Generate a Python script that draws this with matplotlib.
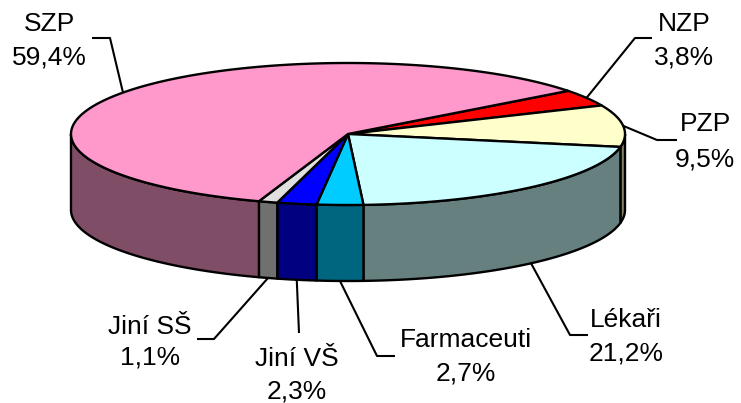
import numpy as np
import matplotlib.pyplot as plt

# -----------------------------
# Data
# -----------------------------
labels = ["NZP", "PZP", "Lékaři", "Farmaceuti", "Jiní VŠ", "Jiní SŠ", "SZP"]
values = [3.8, 9.5, 21.2, 2.7, 2.3, 1.1, 59.4]
top_colors = ["#FF0000", "#FFFFCC", "#CCFFFF", "#00CCFF", "#0000FF", "#E0E0E0", "#FF99CC"]
side_colors = ["#800000", "#808066", "#668080", "#006680", "#000080", "#707070", "#804D66"]

# -----------------------------
# Layout (pixels, y down)
# -----------------------------
W, H = 741, 403
cx, cy = 348, 134
a, b = 277, 71
depth = 76
start = 37.4

# label text centre (x), line1 baseline, line2 baseline, elbow points
label_pos = {
    "SZP": (49, 31, 64, [(92, 38), (110, 38)]),
    "NZP": (684, 31, 64, [(652, 38), (635, 38)]),
    "PZP": (705, 131, 166, [(677, 140), (657, 140)]),
    "Lékaři": (626, 327, 360, [(588, 335), (570, 335)]),
    "Farmaceuti": (466, 347, 380, [(395, 356), (377, 356)]),
    "Jiní VŠ": (297, 366, 398, [(299, 333)]),
    "Jiní SŠ": (150, 334, 364, [(197, 339), (214, 339)]),
}

fig = plt.figure(figsize=(W / 100, H / 100), dpi=100)
ax = fig.add_axes([0, 0, 1, 1])
ax.set_xlim(0, W)
ax.set_ylim(H, 0)
ax.axis("off")


def pt(t, dz=0.0):
    r = np.radians(t)
    return cx + a * np.cos(r), cy - b * np.sin(r) + dz


# slice angles, clockwise from start
bounds = start - np.concatenate([[0], np.cumsum(values)]) * 3.6
lw = 1.7

# side walls (front half only)
for i in range(len(values)):
    t_hi, t_lo = bounds[i], bounds[i + 1]
    for f_lo, f_hi in [(-180, 0), (180, 360)]:
        lo, hi = max(t_lo, f_lo), min(t_hi, f_hi)
        if hi <= lo:
            continue
        ts = np.linspace(lo, hi, 80)
        topx, topy = pt(ts)
        botx, boty = pt(ts[::-1], depth)
        xs = np.concatenate([topx, botx])
        ys = np.concatenate([topy, boty])
        ax.fill(xs, ys, facecolor=side_colors[i], edgecolor="black", lw=lw, joinstyle="round")

# top faces
for i in range(len(values)):
    t_hi, t_lo = bounds[i], bounds[i + 1]
    ts = np.linspace(t_lo, t_hi, 200)
    x, y = pt(ts)
    xs = np.concatenate([[cx], x])
    ys = np.concatenate([[cy], y])
    ax.fill(xs, ys, facecolor=top_colors[i], edgecolor="black", lw=lw, joinstyle="round")

# labels and leader lines
for i, name in enumerate(labels):
    mid = (bounds[i] + bounds[i + 1]) / 2
    m = mid % 360
    if 180 < m < 360:
        ex, ey = pt(mid, depth)
    else:
        ex, ey = pt(mid)
    tx, y1, y2, elbow = label_pos[name]
    px = [p[0] for p in elbow] + [ex]
    py = [p[1] for p in elbow] + [ey]
    ax.plot(px, py, color="black", lw=1.5, solid_capstyle="butt")
    pct = f"{values[i]:.1f}".replace(".", ",") + "%"
    ax.text(tx, y1, name, ha="center", va="baseline", fontsize=19,
            family="Liberation Sans")
    ax.text(tx, y2, pct, ha="center", va="baseline", fontsize=19,
            family="Liberation Sans")

fig.savefig("out.png", dpi=100)
